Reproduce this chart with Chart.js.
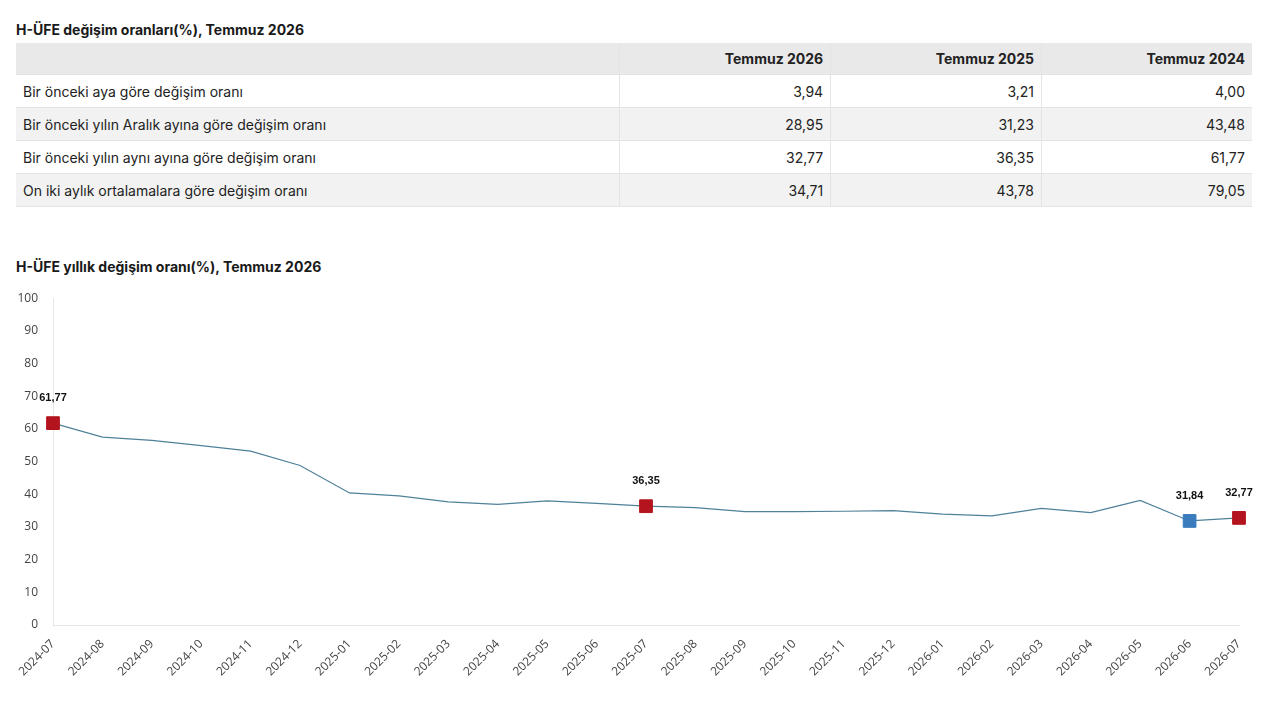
<!DOCTYPE html>
<html lang="tr">
<head>
<meta charset="utf-8">
<title>H-ÜFE</title>
<script src="https://cdn.jsdelivr.net/npm/chart.js@4.4.1/dist/chart.umd.min.js"></script>
<style>
    body { margin: 0; background: #fff; font-family: Inter, "Noto Sans", sans-serif; color: #222; }
    .title { position: absolute; left: 16px; font-size: 14px; font-weight: 700; color: #1a1a1a; }
    #t1 { top: 21px; }
    #t2 { top: 258px; }
    table { position: absolute; left: 16px; top: 43px; width: 1236px; border-collapse: collapse; font-size: 14px; }
    td, th { height: 32px; padding: 0 7px; border-left: 1px solid #e4e4e4; border-bottom: 1px solid #e4e4e4; }
    th { background: #e9e9e9; text-align: right; font-weight: 700; height: 31px; }
    td.num { text-align: right; }
    tr:nth-child(odd) td { background: #f2f2f2; }
    tr td:first-child, tr th:first-child { border-left: none; width: 589px; }
    .wrap { position: absolute; left: 0; top: 284px; width: 1280px; height: 420px; }
</style>
</head>
<body>
<div class="title" id="t1">H-ÜFE değişim oranları(%), Temmuz 2026</div>
<table id="tbl"></table>
<div class="title" id="t2">H-ÜFE yıllık değişim oranı(%), Temmuz 2026</div>
<div class="wrap"><canvas id="ufeChart"></canvas></div>
<script>
// table data
const tableCols = ['Temmuz 2026', 'Temmuz 2025', 'Temmuz 2024'];
const tableRows = [
    'Bir önceki aya göre değişim oranı',
    'Bir önceki yılın Aralık ayına göre değişim oranı',
    'Bir önceki yılın aynı ayına göre değişim oranı',
    'On iki aylık ortalamalara göre değişim oranı'
];
const tableVals = [
    [3.94, 3.21, 4.00],
    [28.95, 31.23, 43.48],
    [32.77, 36.35, 61.77],
    [34.71, 43.78, 79.05]
];

// chart data
const months = ['2024-07', '2024-08', '2024-09', '2024-10', '2024-11', '2024-12',
    '2025-01', '2025-02', '2025-03', '2025-04', '2025-05', '2025-06',
    '2025-07', '2025-08', '2025-09', '2025-10', '2025-11', '2025-12',
    '2026-01', '2026-02', '2026-03', '2026-04', '2026-05', '2026-06', '2026-07'];
const annual = [61.77, 57.5, 56.5, 54.9, 53.2, 48.8,
    40.4, 39.5, 37.7, 36.9, 38.0, 37.2,
    36.35, 35.9, 34.7, 34.7, 34.8, 35.0,
    33.9, 33.4, 35.7, 34.4, 38.1, 31.84, 32.77];
const redIdx = [0, 12, 24];
const blueIdx = [23];
const yTicks = [0, 10, 20, 30, 40, 50, 60, 70, 80, 90, 100];

const fmt = v => v.toFixed(2).replace('.', ',');

// build table
const tbl = document.getElementById('tbl');
let html = '<tr><th></th>' + tableCols.map(c => '<th>' + c + '</th>').join('') + '</tr>';
tableRows.forEach((r, i) => {
    html += '<tr><td>' + r + '</td>' + tableVals[i].map(v => '<td class="num">' + fmt(v) + '</td>').join('') + '</tr>';
});
tbl.innerHTML = html;

const RED = '#b3141d';
const BLUE = '#3a7cbd';
const markColor = i => redIdx.includes(i) ? RED : (blueIdx.includes(i) ? BLUE : '#4f8199');
const markRadius = i => (redIdx.includes(i) || blueIdx.includes(i)) ? 9 : 0;

// value labels over marked points
const valueLabels = {
    id: 'valueLabels',
    afterDatasetsDraw(chart) {
        const ctx = chart.ctx;
        const meta = chart.getDatasetMeta(0);
        ctx.save();
        ctx.font = 'bold 11px "Liberation Sans", Arial, sans-serif';
        ctx.fillStyle = '#111';
        ctx.textAlign = 'center';
        ctx.textBaseline = 'middle';
        redIdx.concat(blueIdx).forEach(i => {
            const p = meta.data[i];
            ctx.fillText(fmt(annual[i]), p.x, p.y - 25);
        });
        ctx.restore();
    }
};

const tickFont = { family: '"Open Sans", "Noto Sans", sans-serif', size: 12 };

const ctx = document.getElementById('ufeChart').getContext('2d');
new Chart(ctx, {
    type: 'line',
    data: {
        labels: months,
        datasets: [{
            data: annual,
            borderColor: '#4f8199',
            borderWidth: 1.2,
            tension: 0,
            pointStyle: 'rect',
            pointRadius: annual.map((_, i) => markRadius(i)),
            pointHoverRadius: annual.map((_, i) => markRadius(i)),
            pointBackgroundColor: annual.map((_, i) => markColor(i)),
            pointBorderColor: annual.map((_, i) => markColor(i)),
            pointBorderWidth: 1
        }]
    },
    options: {
        responsive: true,
        maintainAspectRatio: false,
        animation: false,
        layout: { padding: { top: 0, right: 41, left: 0, bottom: 0 } },
        plugins: {
            legend: { display: false },
            tooltip: { enabled: false }
        },
        scales: {
            x: {
                offset: false,
                grid: { display: false },
                border: { display: true, color: '#e6e6e6' },
                ticks: {
                    maxRotation: 45,
                    minRotation: 45,
                    autoSkip: false,
                    color: '#444',
                    padding: 4,
                    font: tickFont
                },
                afterFit(scale) { scale.height = 79; }
            },
            y: {
                min: 0,
                max: 100,
                grid: { display: false },
                border: { display: true, color: '#e6e6e6' },
                afterBuildTicks(scale) { scale.ticks = yTicks.map(v => ({ value: v })); },
                ticks: {
                    color: '#444',
                    padding: 7,
                    font: tickFont
                },
                afterFit(scale) { scale.width = 53; }
            }
        }
    },
    plugins: [valueLabels]
});
</script>
</body>
</html>
